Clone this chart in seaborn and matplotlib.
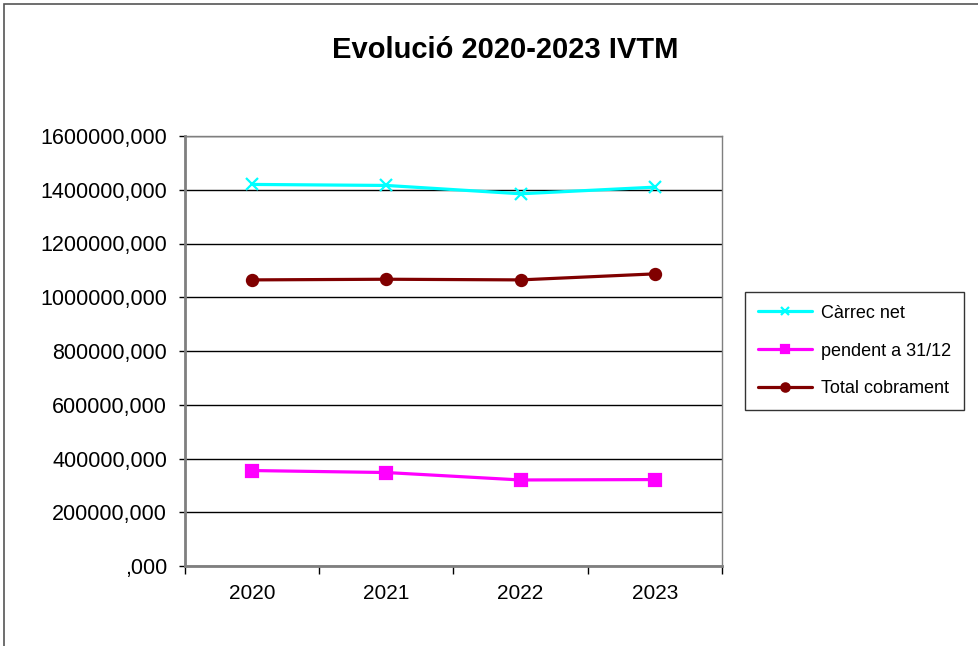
import matplotlib
matplotlib.use("Agg")
import matplotlib.pyplot as plt
import seaborn as sns
import pandas as pd
from matplotlib.patches import Rectangle
from matplotlib.ticker import FuncFormatter, FixedLocator

years = ["2020", "2021", "2022", "2023"]
carrec_net = [1419800, 1416000, 1385000, 1409700]
pendent = [355200, 347800, 320100, 321600]
total_cobrament = [1064600, 1067000, 1064600, 1087000]
series_names = ["Càrrec net", "pendent a 31/12", "Total cobrament"]
colors = ["#00FFFF", "#FF00FF", "#800000"]
markers = ["x", "s", "o"]

sns.set_style("white")
plt.rcParams["font.family"] = ["Liberation Sans", "DejaVu Sans"]
plt.rcParams["text.color"] = "black"
plt.rcParams["xtick.color"] = "black"
plt.rcParams["ytick.color"] = "black"
plt.rcParams["axes.labelcolor"] = "black"

fig = plt.figure(figsize=(9.79, 6.46), dpi=100)
ax = fig.add_axes([185/979, 1-566/646, (722-185)/979, (566-136)/646])

for name, vals, c, m in zip(series_names, [carrec_net, pendent, total_cobrament], colors, markers):
    d = pd.DataFrame({"Any": years, "Valor": vals})
    sns.lineplot(data=d, x="Any", y="Valor", color=c, marker=m, label=name,
                 linewidth=2.3, markersize=8 if m != "x" else 9,
                 markeredgewidth=1.6, markerfacecolor=c, markeredgecolor=c,
                 sort=False, ax=ax)

ax.set_xlim(-0.5, 3.5)
ax.set_ylim(0, 1600000)
ax.set_yticks(range(0, 1600001, 200000))
ax.yaxis.set_major_formatter(FuncFormatter(lambda v, p: f"{int(v)},000" if v else ",000"))
ax.yaxis.grid(True, color="black", linewidth=1.0)
ax.set_axisbelow(True)
ax.set_xlabel("")
ax.set_ylabel("")
ax.tick_params(axis="y", which="major", length=4.5, width=1, color="black", labelsize=15.5, pad=8.5, left=True)
ax.tick_params(axis="x", which="major", length=0, labelsize=15, pad=13)
ax.xaxis.set_minor_locator(FixedLocator([-0.5, 0.5, 1.5, 2.5, 3.5]))
ax.tick_params(axis="x", which="minor", length=6, width=1, color="black", bottom=True)
for s in ["left", "bottom"]:
    ax.spines[s].set_color("#7f7f7f")
    ax.spines[s].set_linewidth(2)
for s in ["top", "right"]:
    ax.spines[s].set_color("#7f7f7f")
    ax.spines[s].set_linewidth(1)

fig.text(505/979, 1-50/646, "Evolució 2020-2023 IVTM", ha="center", va="center",
         fontsize=21, fontweight="bold", color="black")

leg = ax.legend(loc="center left", bbox_to_anchor=(745/979, 1-351/646),
                bbox_transform=fig.transFigure, frameon=True, fancybox=False,
                edgecolor="black", fontsize=13, handlelength=3.0,
                labelspacing=1.15, borderpad=0.7, handletextpad=0.5,
                borderaxespad=0)
leg.get_frame().set_linewidth(1)
for t in leg.get_texts():
    t.set_color("black")
for h, c in zip(leg.legend_handles, colors):
    h.set_markersize(6)
    h.set_linewidth(2.3)

fig.patches.append(Rectangle((4/979, -0.1), 1.2, 1-4/646+0.1, transform=fig.transFigure,
                             fill=False, edgecolor="#555555", linewidth=1.2))

fig.savefig("out.png", dpi=100)
